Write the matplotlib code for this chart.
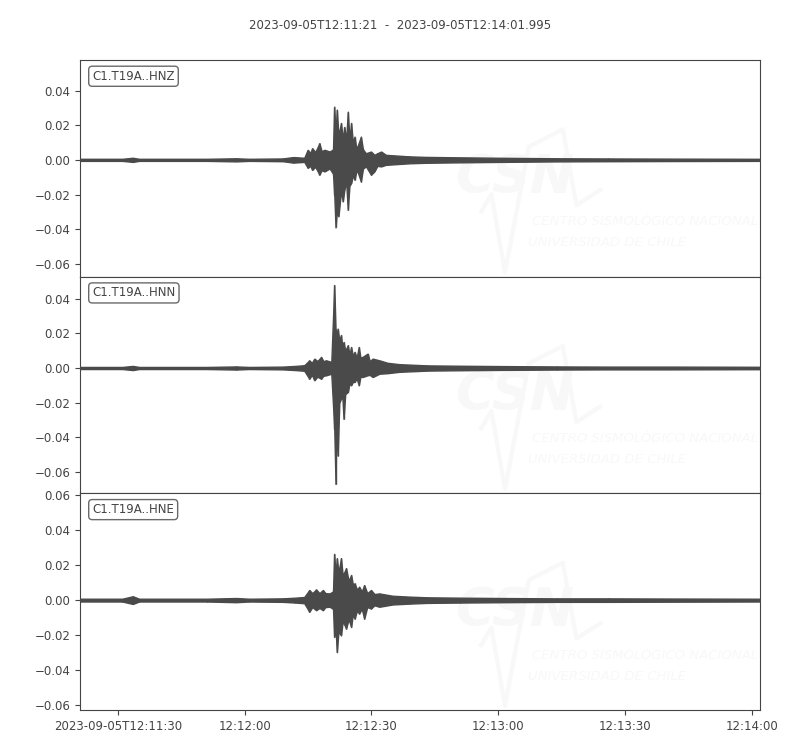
import matplotlib
matplotlib.use('Agg')
import matplotlib.pyplot as plt
import numpy as np

# title / axis text
title_text = "2023-09-05T12:11:21  -  2023-09-05T12:14:01.995"
trace_ids = ['C1.T19A..HNZ', 'C1.T19A..HNN', 'C1.T19A..HNE']
duration = 160.995  # seconds after 12:11:21
xtick_pos = [9, 39, 69, 99, 129, 159]
xtick_labels = ['2023-09-05T12:11:30', '12:12:00', '12:12:30', '12:13:00', '12:13:30', '12:14:00']

# envelope of each trace (seconds after start, upper / lower)
hnz_t = [0, 10, 12.5, 14, 30, 37, 40, 48, 50.5, 53.1, 53.9, 54.5, 55.0, 55.7, 56.7, 57.2, 57.9, 59.1,
         59.9, 60.2, 60.5, 60.8, 61.2, 61.8, 62.2, 62.6, 63.0, 63.4, 63.8, 64.2, 64.6, 65.0, 65.4,
         65.7, 66.5, 67.0, 67.7, 68.9, 69.7, 70.4, 71.3, 72.4, 74.8, 78.0, 81.9, 88, 99, 113, 125,
         140, 161]
hnz_up = [.0006, .0006, .0012, .0006, .0006, .0009, .0006, .0008, .0016, .0012, .0058, .0040, .0067,
          .0045, .0096, .0050, .0058, .0048, .0060, .0307, .0150, .0290, .0140, .0213, .0120, .0190,
          .0110, .0278, .0120, .0213, .0100, .0134, .0070, .0077, .0134, .0060, .0038, .0048, .0029,
          .0038, .0048, .0029, .0025, .0020, .0017, .0015, .0012, .0009, .0008, .0007, .0006]
hnz_lo = [-.0006, -.0006, -.0012, -.0006, -.0006, -.0009, -.0006, -.0008, -.0016, -.0012, -.0046,
          -.0035, -.0058, -.0040, -.0086, -.0060, -.0067, -.0050, -.0080, -.0200, -.0390, -.0300,
          -.0326, -.0180, -.0240, -.0173, -.0120, -.0288, -.0150, -.0134, -.0090, -.0115, -.0070,
          -.0067, -.0125, -.0050, -.0038, -.0086, -.0067, -.0035, -.0038, -.0029, -.0025, -.0020,
          -.0017, -.0015, -.0012, -.0009, -.0008, -.0007, -.0006]

hnn_t = [0, 10, 12.5, 14, 30, 37, 40, 48, 51, 53.1, 54.3, 54.9, 55.5, 56.2, 57.1, 57.6, 58.3, 59.5,
         60.2, 60.5, 60.7, 61.0, 61.4, 61.8, 62.1, 62.4, 62.8, 63.4, 63.8, 64.2, 64.6, 65.0, 65.5,
         66.0, 66.4, 66.9, 68.1, 68.6, 69.3, 70.9, 72.8, 75.6, 79.5, 82.2, 90, 100, 113, 125, 140, 161]
hnn_up = [.0006, .0006, .0012, .0006, .0006, .0009, .0006, .0008, .0012, .0016, .0044, .0030, .0054,
          .0040, .0064, .0040, .0044, .0035, .0478, .0227, .0180, .0227, .0160, .0190, .0120, .0150,
          .0100, .0131, .0080, .0121, .0070, .0093, .0060, .0121, .0060, .0064, .0083, .0040, .0054,
          .0044, .0030, .0022, .0018, .0015, .0013, .0011, .0009, .0008, .0008, .0007]
hnn_lo = [-.0006, -.0006, -.0012, -.0006, -.0006, -.0009, -.0006, -.0008, -.0012, -.0016, -.0062,
          -.0040, -.0071, -.0050, -.0062, -.0045, -.0042, -.0033, -.0350, -.0668, -.0300, -.0504,
          -.0200, -.0177, -.0160, -.0293, -.0150, -.0139, -.0090, -.0100, -.0080, -.0081, -.0060,
          -.0100, -.0050, -.0052, -.0042, -.0040, -.0052, -.0033, -.0030, -.0022, -.0018, -.0015,
          -.0013, -.0011, -.0009, -.0008, -.0008, -.0007]

hne_t = [0, 10, 12.5, 14, 30, 37, 40, 48, 51, 53.1, 54.3, 55.0, 55.9, 56.7, 57.5, 58.1, 59.1, 59.9,
         60.2, 60.5, 60.8, 61.2, 61.8, 62.2, 63.0, 63.6, 64.2, 64.6, 65.0, 65.6, 66.1, 66.7, 67.3,
         68.0, 68.9, 69.7, 70.9, 74.0, 78.0, 82.2, 90, 100, 113, 125, 140, 161]
hne_up = [.0008, .0008, .0022, .0008, .0008, .0012, .0008, .0010, .0014, .0018, .0058, .0040, .0061,
          .0040, .0058, .0040, .0038, .0050, .0265, .0140, .0240, .0160, .0240, .0140, .0183, .0110,
          .0144, .0090, .0096, .0060, .0077, .0050, .0086, .0040, .0058, .0035, .0038, .0025, .0020,
          .0016, .0014, .0012, .0010, .0010, .0009, .0008]
hne_lo = [-.0008, -.0008, -.0022, -.0008, -.0008, -.0012, -.0008, -.0010, -.0014, -.0018, -.0067,
          -.0040, -.0058, -.0045, -.0058, -.0040, -.0038, -.0050, -.0211, -.0160, -.0298, -.0180,
          -.0202, -.0120, -.0163, -.0110, -.0154, -.0080, -.0106, -.0060, -.0077, -.0050, -.0106,
          -.0040, -.0048, -.0030, -.0038, -.0025, -.0020, -.0016, -.0014, -.0012, -.0010, -.0010,
          -.0009, -.0008]

ylims = [(-0.0674, 0.0576), (-0.0722, 0.0526), (-0.0629, 0.0611)]
yticks = [[-0.06, -0.04, -0.02, 0.0, 0.02, 0.04],
          [-0.06, -0.04, -0.02, 0.0, 0.02, 0.04],
          [-0.06, -0.04, -0.02, 0.0, 0.02, 0.04, 0.06]]

traces = [(hnz_t, hnz_up, hnz_lo), (hnn_t, hnn_up, hnn_lo), (hne_t, hne_up, hne_lo)]

txt_col = '#444444'
line_col = '#4a4a4a'
wm_col = '#f8f8f8'
plt.rcParams['font.size'] = 8.5
plt.rcParams['text.color'] = txt_col
plt.rcParams['xtick.color'] = txt_col
plt.rcParams['ytick.color'] = txt_col
plt.rcParams['axes.edgecolor'] = txt_col

fig, axes = plt.subplots(3, 1, figsize=(8, 7.5), dpi=100, sharex=True)
fig.subplots_adjust(left=0.1, right=0.95, top=0.92, bottom=0.0533, hspace=0)

for i, ax in enumerate(axes):
    t, up, lo = traces[i]
    # faint CSN watermark
    ax.text(0.551, 0.456, 'CSN', transform=ax.transAxes, fontsize=38, fontweight='bold',
            style='italic', color=wm_col, va='center', ha='left', zorder=0)
    ax.plot([0.59, 0.605, 0.625, 0.66, 0.71, 0.73, 0.765],
            [0.30, 0.38, 0.02, 0.60, 0.68, 0.33, 0.40],
            transform=ax.transAxes, color=wm_col, lw=3, zorder=0)
    ax.text(0.665, 0.253, 'CENTRO SISMOLÓGICO NACIONAL', transform=ax.transAxes, fontsize=9.5,
            style='italic', color=wm_col, va='center', ha='left', zorder=0)
    ax.text(0.659, 0.157, 'UNIVERSIDAD DE CHILE', transform=ax.transAxes, fontsize=9.5,
            style='italic', color=wm_col, va='center', ha='left', zorder=0)

    ax.fill_between(t, lo, up, color=line_col, edgecolor=line_col, lw=1, zorder=3)
    ax.vlines(t, lo, up, color=line_col, lw=1, zorder=3)
    ax.set_xlim(0, duration)
    ax.set_ylim(ylims[i])
    ax.set_yticks(yticks[i])
    ax.set_yticklabels(['%.2f' % v if v >= 0 else '\u2212%.2f' % -v for v in yticks[i]])
    ax.text(0.018, 0.955, trace_ids[i], transform=ax.transAxes, va='top', ha='left', fontsize=8.5,
            bbox=dict(boxstyle='round', fc='w', ec=txt_col, alpha=0.8), zorder=5)

axes[-1].set_xticks(xtick_pos)
axes[-1].set_xticklabels(xtick_labels)
fig.suptitle(title_text, y=0.975, fontsize=8.5)

plt.savefig('out.png', dpi=100)
